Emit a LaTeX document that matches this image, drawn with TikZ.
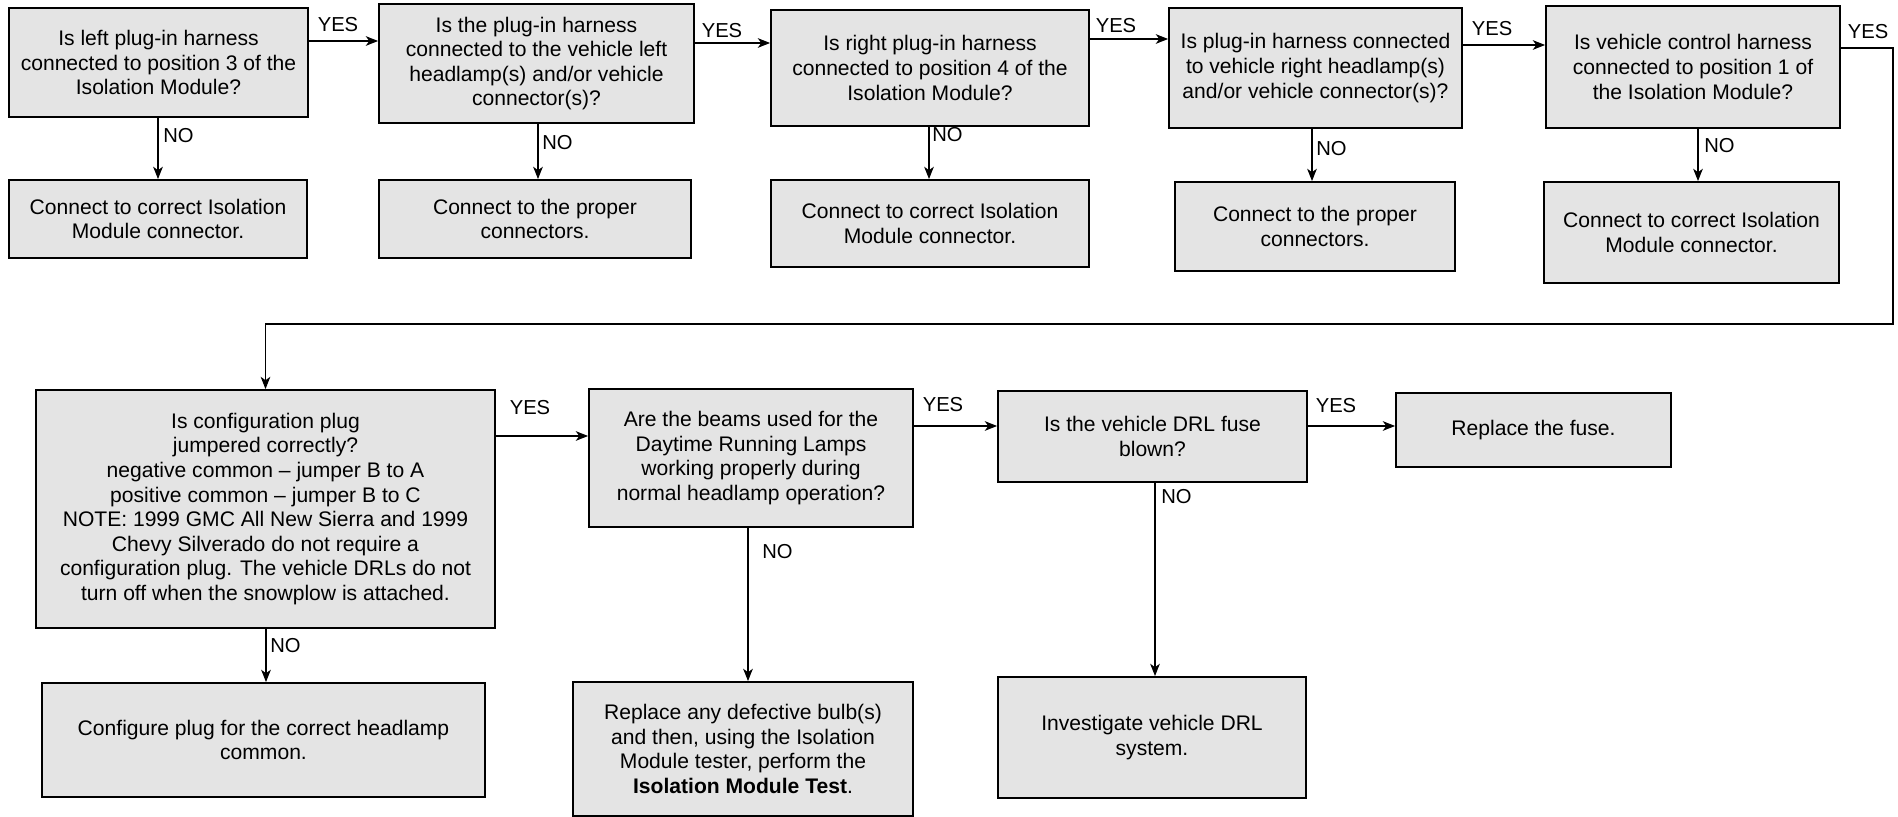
\documentclass[tikz,border=0pt]{standalone}
\usepackage{fontspec}
\setmainfont{Liberation Sans}
\usepackage{tikz}
\usetikzlibrary{arrows.meta, positioning, calc}
\definecolor{cBox}{RGB}{228,228,228}
\newcommand{\boxsize}{\fontsize{12}{14}\selectfont}
\tikzset{
  basebox/.style={rectangle, draw=black, line width=1.1pt, fill=cBox,
                  align=center, inner sep=2pt, font=\boxsize},
  asknode/.style={basebox},
  fixnode/.style={basebox},
  lbl/.style={inner sep=0pt, font=\fontsize{11.5}{13}\selectfont},
  arrow/.style={-{Stealth[length=7pt, width=5.5pt, inset=2pt]}, line width=0.6pt}
}

\begin{document}
\begin{tikzpicture}[x=0.02cm, y=-0.02cm]
  \useasboundingbox (0,0) rectangle (1898,817);

  % top row: questions
  \node[asknode, minimum width=5.98cm, minimum height=2.18cm] (q1) at (158.5,62.5)
      {Is left plug-in harness\\connected to position 3 of the\\Isolation Module?};
  \node[asknode, minimum width=6.3cm, minimum height=2.38cm] (q2) at (536.5,63.5)
      {Is the plug-in harness\\connected to the vehicle left\\headlamp(s) and/or vehicle\\connector(s)?};
  \node[asknode, minimum width=6.36cm, minimum height=2.32cm] (q3) at (930,68)
      {Is right plug-in harness\\connected to position 4 of the\\Isolation Module?};
  \node[asknode, minimum width=5.86cm, minimum height=2.4cm] (q4) at (1315.5,68)
      {Is plug-in harness connected\\to vehicle right headlamp(s)\\and/or vehicle connector(s)?};
  \node[asknode, minimum width=5.88cm, minimum height=2.44cm] (q5) at (1693,67)
      {Is vehicle control harness\\connected to position 1 of\\the Isolation Module?};

  % top row: fixes
  \node[fixnode, minimum width=5.96cm, minimum height=1.56cm] (a1) at (158,219)
      {Connect to correct Isolation\\Module connector.};
  \node[fixnode, minimum width=6.24cm, minimum height=1.56cm] (a2) at (535,219)
      {Connect to the proper\\connectors.};
  \node[fixnode, minimum width=6.36cm, minimum height=1.74cm] (a3) at (930,223.5)
      {Connect to correct Isolation\\Module connector.};
  \node[fixnode, minimum width=5.6cm, minimum height=1.78cm] (a4) at (1315,226.5)
      {Connect to the proper\\connectors.};
  \node[fixnode, minimum width=5.9cm, minimum height=2.02cm] (a5) at (1691.5,232.5)
      {Connect to correct Isolation\\Module connector.};

  % bottom row
  \node[asknode, minimum width=9.18cm, minimum height=4.76cm] (q6) at (265.5,509)
      {Is configuration plug\\jumpered correctly?\\negative common – jumper B to A\\positive common – jumper B to C\\NOTE: 1999 GMC All New Sierra and 1999\\Chevy Silverado do not require a\\configuration plug. The vehicle DRLs do not\\turn off when the snowplow is attached.};
  \node[fixnode, minimum width=8.86cm, minimum height=2.28cm] (a6) at (263.5,740)
      {Configure plug for the correct headlamp\\common.};
  \node[asknode, minimum width=6.48cm, minimum height=2.76cm] (q7) at (751,458)
      {Are the beams used for the\\Daytime Running Lamps\\working properly during\\normal headlamp operation?};
  \node[fixnode, minimum width=6.8cm, minimum height=2.68cm] (a7) at (743,749)
      {Replace any defective bulb(s)\\and then, using the Isolation\\Module tester, perform the\\\textbf{Isolation Module Test}.};
  \node[asknode, minimum width=6.18cm, minimum height=1.82cm] (q8) at (1152.5,436.5)
      {Is the vehicle DRL fuse\\blown?};
  \node[fixnode, minimum width=5.5cm, minimum height=1.48cm] (a8) at (1533.5,430)
      {Replace the fuse.};
  \node[fixnode, minimum width=6.16cm, minimum height=2.42cm] (a9) at (1152,737.5)
      {Investigate vehicle DRL\\system.};

  % YES connectors
  \foreach \from/\to/\y in {q1/q2/41, q2/q3/43, q3/q4/39, q4/q5/45,
                            q6/q7/436, q7/q8/426, q8/a8/426}
    \draw[arrow] (\from.east |- 0,\y) -- (\to.west |- 0,\y);
  \draw[arrow] (q5.east |- 0,48) -| (1893,324) -| (q6.north);

  % NO connectors
  \foreach \from/\to/\x/\lx/\ly [count=\i] in {q1/a1/158/163/136,
      q2/a2/538/542/143, q3/a3/929/932/135, q4/a4/1312/1316/149,
      q5/a5/1698/1704/146, q6/a6/266/270/646, q7/a7/748/762/552,
      q8/a9/1155/1161/497} {
    \draw[arrow] (\from.south -| \x,0) -- (\to.north -| \x,0);
    \node[lbl, anchor=west] (no\i) at (\lx,\ly) {NO};
  }

  % YES labels
  \foreach \lx/\ly [count=\i] in {338/25, 722/31, 1116/26, 1492/29,
      1868/32, 530/408, 943/405, 1336/406}
    \node[lbl] (yes\i) at (\lx,\ly) {YES};
\end{tikzpicture}
\end{document}
